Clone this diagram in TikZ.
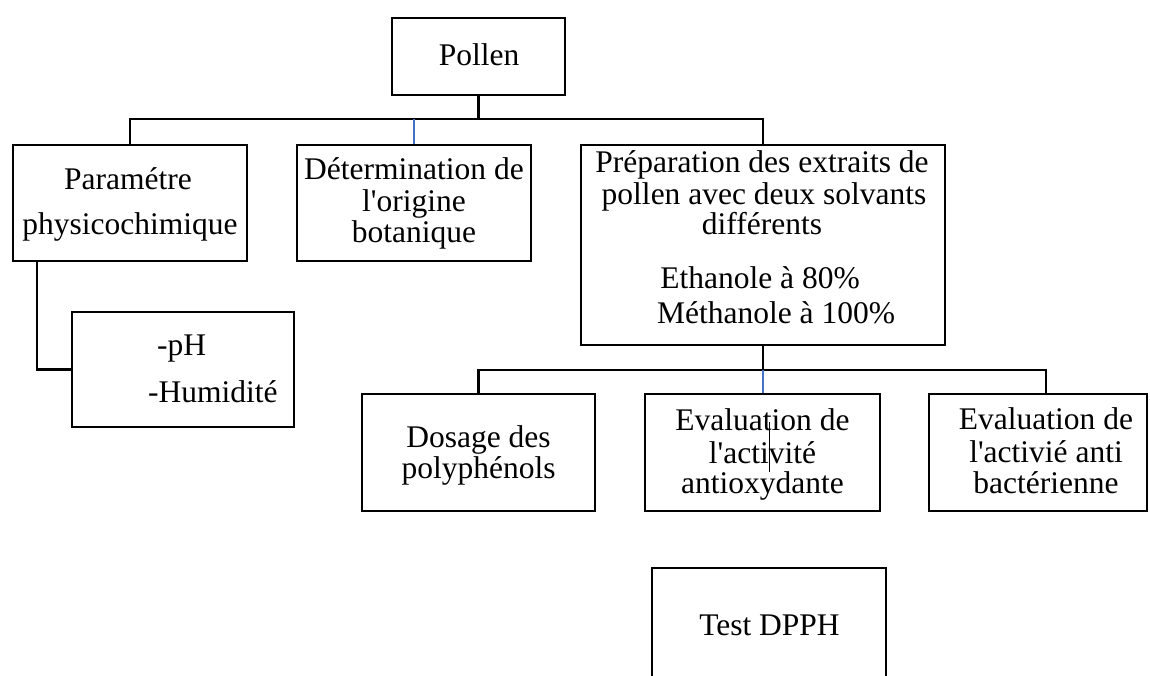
\documentclass[tikz,border=0pt]{standalone}
\usepackage{fontspec}
\setmainfont{Liberation Serif}
\definecolor{wordblue}{RGB}{68,114,196}
\begin{document}
\begin{tikzpicture}[x=1pt,y=-1pt,
  box/.style={draw=black,line width=2.6pt,rectangle,inner sep=0pt},
  txt/.style={anchor=base,inner sep=0pt,font=\fontsize{31.5}{36}\selectfont},
  txtw/.style={anchor=base west,inner sep=0pt,font=\fontsize{31.5}{36}\selectfont},
  conn/.style={draw=black,line width=2.6pt,line cap=rect,line join=miter},
  bconn/.style={draw=wordblue,line width=2pt}]
\useasboundingbox (0,0) rectangle (1150,676);
\clip (0,0) rectangle (1150,676);
% boxes
\node[box,minimum width=173pt,minimum height=77pt] (pollen) at (478.5,56.5) {};
\node[box,minimum width=234pt,minimum height=116pt] (param) at (130,203) {};
\node[box,minimum width=234pt,minimum height=116pt] (deter) at (414,203) {};
\node[box,minimum width=364pt,minimum height=200pt] (prep) at (763,245) {};
\node[box,minimum width=222pt,minimum height=115pt] (ph) at (183,369.5) {};
\node[box,minimum width=233pt,minimum height=117pt] (dosage) at (478.5,452.5) {};
\node[box,minimum width=235pt,minimum height=117pt] (evalA) at (762.5,452.5) {};
\node[box,minimum width=218pt,minimum height=117pt] (evalB) at (1038,452.5) {};
\node[box,minimum width=234pt,minimum height=132pt] (dpph) at (769,634) {};
% texts
\node[txt] (tpollen) at (479,66) {Pollen};
\node[txt] (tpar1) at (128,190) {Paramétre};
\node[txt] (tpar2) at (130,235) {physicochimique};
\node[txt] (tdet1) at (414,180) {Détermination de};
\node[txt] (tdet2) at (414,212) {l\textquotesingle origine};
\node[txt] (tdet3) at (414,243) {botanique};
\node[txt] (tpre1) at (762,173) {Préparation des extraits de};
\node[txt] (tpre2) at (764,205) {pollen avec deux solvants};
\node[txt] (tpre3) at (762,235) {différents};
\node[txt] (tpre4) at (760,288) {Ethanole à 80\%};
\node[txt] (tpre5) at (776,323) {Méthanole à 100\%};
\node[txtw] (tph1) at (157,355) {-pH};
\node[txtw] (tph2) at (148,402) {-Humidité};
\node[txt] (tdos1) at (478.5,447) {Dosage des};
\node[txt] (tdos2) at (478.5,478) {polyphénols};
\node[txt] (teva1) at (762.5,430) {Evaluation de};
\node[txt] (teva2) at (762.5,463) {l\textquotesingle activité};
\node[txt] (teva3) at (762.5,493) {antioxydante};
\node[txt] (tevb1) at (1046,429) {Evaluation de};
\node[txt] (tevb2) at (1046,462) {l\textquotesingle activié anti};
\node[txt] (tevb3) at (1046,493) {bactérienne};
\node[txt] (tdpph) at (769.5,635) {Test DPPH};
% stray cursor mark inside the text
\draw[line width=1pt] (769,422) -- (769,472);
% connectors
\coordinate (bus1) at (0,119);
\coordinate (bus2) at (0,370);
\coordinate (evbtop) at ([xshift=8pt]evalB.north);
\draw[conn] (pollen.south) -- (pollen.south |- bus1);
\draw[conn] (param.north) |- (bus1 -| prep.north) -- (prep.north);
\draw[bconn] (deter.north) -- (deter.north |- bus1);
\draw[conn] (prep.south) -- (prep.south |- bus2);
\draw[conn] (dosage.north) |- (bus2 -| evbtop) -- (evbtop);
\draw[bconn] (evalA.north) -- (evalA.north |- bus2);
\draw[conn] ([xshift=-93pt]param.south) |- (ph.west);
\end{tikzpicture}
\end{document}
